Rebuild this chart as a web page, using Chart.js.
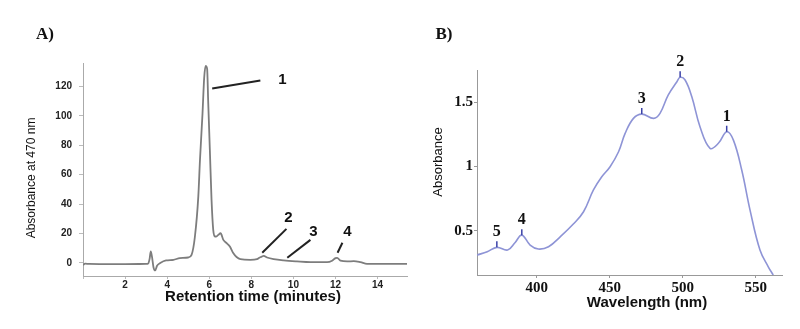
<!DOCTYPE html>
<html>
<head>
<meta charset="utf-8">
<script src="https://cdn.jsdelivr.net/npm/chart.js@4"></script>
<style>
  body { margin: 0; background: #fff; }
  #wrap { position: relative; width: 800px; height: 329px; }
  #chartA { position: absolute; left: 0; top: 0; }
  #chartB { position: absolute; left: 420px; top: 0; }
</style>
</head>
<body>
<div id="wrap">
  <canvas id="chartA" width="420" height="329"></canvas>
  <canvas id="chartB" width="380" height="329"></canvas>
</div>
<script>
// Panel A - chromatogram
const timeA = [0, 0.1, 0.3, 1.0, 2.0, 3.0, 3.1, 3.17, 3.22, 3.28, 3.35, 3.43, 3.52, 3.67, 3.95,
  4.3, 4.6, 5.0, 5.16, 5.32, 5.48, 5.56, 5.68, 5.76, 5.83, 5.9, 5.95, 6.03, 6.11, 6.19,
  6.27, 6.35, 6.43, 6.54, 6.67, 6.83, 6.98, 7.14, 7.3, 7.48, 7.95, 8.27, 8.4, 8.5, 8.59,
  8.75, 9.06, 9.54, 10.17, 10.81, 11.6, 11.84, 12.0, 12.08, 12.24, 12.56, 12.87, 13.19, 13.5, 14.3, 15.4];
const absA = [-1.5, -0.6, -0.8, -0.9, -0.9, -0.8, -0.5, 3, 7.7, 4, -3, -5.2, -2, -0.2, 1.6,
  2, 3.2, 3.6, 5.4, 17.9, 45, 70, 101.5, 126, 134, 132, 110, 76.6, 42.7, 22.4,
  17.9, 18, 19, 20.1, 15.6, 13.3, 11, 6.6, 3.9, 2.5, 2, 2.5, 3.6, 4.2, 4.7,
  3.6, 2.5, 1.6, 0.9, 0.4, 0.4, 1.4, 3.2, 3.4, 1.4, 0.9, 1.1, 0.4, -0.7, -0.7, -0.7];
const xTicksA = [0, 2, 4, 6, 8, 10, 12, 14];
const yTicksA = [0, 20, 40, 60, 80, 100, 120];
// peak labels: leader line start/end and label point, in data units
const peakNamesA = ['1', '2', '3', '4'];
const peakLineA = [[6.14, 118.6, 8.43, 124.1], [8.52, 6.8, 9.67, 23.1], [9.71, 3.4, 10.81, 15.6], [12.1, 6.8, 12.33, 13.6]];
const peakTextA = [[9.48, 124.7], [9.76, 30.5], [10.95, 21], [12.57, 21]];

// Panel B - absorbance spectrum
const wavelength = [359, 366, 372.6, 380, 385, 389.7, 395.4, 401, 408, 416, 425, 432, 438.8, 444.5, 450.2,
  456, 460.5, 466.2, 471.9, 480, 484.4, 490, 496, 498.2, 501.6, 506.2, 511.8, 518.7, 524.4, 530.1,
  534.7, 540.4, 546.1, 552.9, 558.6, 562];
const absB = [0.311, 0.337, 0.371, 0.35, 0.407, 0.466, 0.389, 0.358, 0.376, 0.453, 0.552, 0.648, 0.817, 0.92, 0.998,
  1.114, 1.257, 1.374, 1.407, 1.374, 1.413, 1.555, 1.659, 1.693, 1.672, 1.542, 1.309, 1.141, 1.18, 1.27,
  1.205, 0.972, 0.661, 0.35, 0.22, 0.156];
const xTicksB = [400, 450, 500, 550];
const yTicksB = [0.5, 1, 1.5];
const peakNamesB = ['1', '2', '3', '4', '5'];
const peakWlB = [530.1, 498.2, 471.9, 389.7, 372.6];
const peakAbsB = [1.27, 1.693, 1.407, 0.466, 0.371];

const sans = "'Liberation Sans', Arial, sans-serif";
const serif = "'Liberation Serif', 'Times New Roman', serif";

function setTicks(list) {
  return scale => {
    scale.ticks = list.map(v => ({ value: v }));
  };
}

function text(ctx, str, x, y, font, rot) {
  ctx.save();
  ctx.translate(x, y);
  if (rot) ctx.rotate(rot);
  ctx.font = font;
  ctx.fillStyle = '#111';
  ctx.textAlign = 'center';
  ctx.textBaseline = 'middle';
  ctx.fillText(str, 0, 0);
  ctx.restore();
}

const labelsA = {
  id: 'labelsA',
  afterDraw(chart) {
    const ctx = chart.ctx;
    const xs = chart.scales.x, ys = chart.scales.y;
    text(ctx, 'A)', 45, 35, 'bold 17px ' + serif);
    text(ctx, 'Absorbance at 470 nm', 32, 178, '12px ' + sans, -Math.PI / 2);
    text(ctx, 'Retention time (minutes)', 253, 297, 'bold 15px ' + sans);
    ctx.save();
    ctx.strokeStyle = '#222';
    ctx.lineWidth = 2;
    peakLineA.forEach(l => {
      ctx.beginPath();
      ctx.moveTo(xs.getPixelForValue(l[0]), ys.getPixelForValue(l[1]));
      ctx.lineTo(xs.getPixelForValue(l[2]), ys.getPixelForValue(l[3]));
      ctx.stroke();
    });
    ctx.restore();
    peakTextA.forEach((p, i) => {
      text(ctx, peakNamesA[i], xs.getPixelForValue(p[0]), ys.getPixelForValue(p[1]), 'bold 15px ' + sans);
    });
  }
};

const labelsB = {
  id: 'labelsB',
  afterDraw(chart) {
    const ctx = chart.ctx;
    const xs = chart.scales.x, ys = chart.scales.y;
    text(ctx, 'B)', 24, 35, 'bold 17px ' + serif);
    text(ctx, 'Absorbance', 18, 162, '13px ' + sans, -Math.PI / 2);
    text(ctx, 'Wavelength (nm)', 227, 303, 'bold 15px ' + sans);
    peakWlB.forEach((w, i) => {
      const px = xs.getPixelForValue(w), py = ys.getPixelForValue(peakAbsB[i]);
      ctx.save();
      ctx.strokeStyle = '#3b42a8';
      ctx.lineWidth = 1.5;
      ctx.beginPath();
      ctx.moveTo(px, py);
      ctx.lineTo(px, py - 6);
      ctx.stroke();
      ctx.restore();
      text(ctx, peakNamesB[i], px, py - 15, 'bold 16px ' + serif);
    });
  }
};

const chartA = new Chart(document.getElementById('chartA').getContext('2d'), {
  type: 'line',
  data: {
    datasets: [{
      data: timeA.map((t, i) => ({ x: t, y: absA[i] })),
      borderColor: '#7d7d7d',
      borderWidth: 1.8,
      pointRadius: 0,
      tension: 0.3,
      cubicInterpolationMode: 'monotone'
    }]
  },
  options: {
    responsive: false,
    animation: false,
    devicePixelRatio: 1,
    layout: { padding: { top: 63, right: 13, left: 0, bottom: 0 } },
    plugins: { legend: { display: false }, tooltip: { enabled: false } },
    scales: {
      x: {
        type: 'linear',
        min: 0,
        max: 15.4,
        afterBuildTicks: setTicks(xTicksA),
        afterFit: s => { s.height = 53; },
        ticks: {
          callback: v => (v === 0 ? '' : String(v)),
          font: { family: sans, size: 10, weight: 'bold' },
          color: '#222',
          padding: 0,
          maxRotation: 0
        },
        grid: { drawOnChartArea: false, tickLength: 3, color: '#bbb' },
        border: { color: '#aaa', dash: [1, 2] }
      },
      y: {
        min: -9,
        max: 136,
        afterBuildTicks: setTicks(yTicksA),
        afterFit: s => { s.width = 83; },
        ticks: {
          callback: v => String(v),
          font: { family: sans, size: 10, weight: 'bold' },
          color: '#222',
          padding: 7
        },
        grid: { drawOnChartArea: false, tickLength: 4, color: '#bbb' },
        border: { color: '#aaa' }
      }
    }
  },
  plugins: [labelsA]
});

const chartB = new Chart(document.getElementById('chartB').getContext('2d'), {
  type: 'line',
  data: {
    datasets: [{
      data: wavelength.map((w, i) => ({ x: w, y: absB[i] })),
      borderColor: '#8e94d6',
      borderWidth: 1.6,
      pointRadius: 0,
      tension: 0.4
    }]
  },
  options: {
    responsive: false,
    animation: false,
    devicePixelRatio: 1,
    layout: { padding: { top: 70, right: 18, left: 0, bottom: 0 } },
    plugins: { legend: { display: false }, tooltip: { enabled: false } },
    scales: {
      x: {
        type: 'linear',
        min: 359,
        max: 568,
        afterBuildTicks: setTicks(xTicksB),
        afterFit: s => { s.height = 54; },
        ticks: {
          callback: v => String(v),
          font: { family: serif, size: 15, weight: 'bold' },
          color: '#111',
          padding: 1,
          maxRotation: 0
        },
        grid: { drawOnChartArea: false, tickLength: 3, color: '#999' },
        border: { color: '#999' }
      },
      y: {
        min: 0.156,
        max: 1.75,
        afterBuildTicks: setTicks(yTicksB),
        afterFit: s => { s.width = 57; },
        ticks: {
          callback: v => String(v),
          font: { family: serif, size: 15, weight: 'bold' },
          color: '#111',
          padding: 1
        },
        grid: { drawOnChartArea: false, tickLength: 3, color: '#999' },
        border: { color: '#999' }
      }
    }
  },
  plugins: [labelsB]
});
</script>
</body>
</html>
